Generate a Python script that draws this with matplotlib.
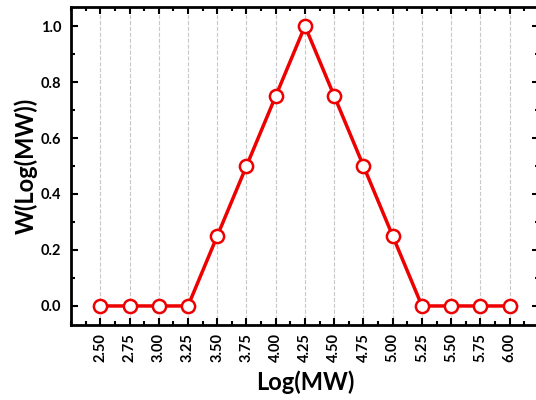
import matplotlib.pyplot as plt
from matplotlib.ticker import MultipleLocator

# molecular weight distribution (triangle)
log_mw = [2.50, 2.75, 3.00, 3.25, 3.50, 3.75, 4.00, 4.25, 4.50, 4.75, 5.00, 5.25, 5.50, 5.75, 6.00]
w_log_mw = [0.0, 0.0, 0.0, 0.0, 0.25, 0.5, 0.75, 1.0, 0.75, 0.5, 0.25, 0.0, 0.0, 0.0, 0.0]
xtick_labels = ['%.2f' % v for v in log_mw]

plt.rcParams['font.family'] = ['Lato', 'DejaVu Sans']

fig = plt.figure(figsize=(5.36, 4.0), dpi=100)
ax = fig.add_axes([0.1325, 0.1875, 0.873, 0.795])

ax.plot(log_mw, w_log_mw, color='#ee0000', lw=2.5, marker='o', ms=9.5,
        mfc='white', mec='#ee0000', mew=1.8, zorder=3)

ax.set_xlim(2.25, 6.25)
ax.set_ylim(-0.068, 1.068)
ax.set_xticks(log_mw)
ax.set_xticklabels(xtick_labels, rotation=90, fontweight='bold', fontsize=10.5)
ax.xaxis.set_minor_locator(MultipleLocator(0.125))
ax.yaxis.set_minor_locator(MultipleLocator(0.1))
ax.set_yticks([0.0, 0.2, 0.4, 0.6, 0.8, 1.0])
ax.set_yticklabels(['0.0', '0.2', '0.4', '0.6', '0.8', '1.0'], fontweight='bold', fontsize=10.5)

ax.tick_params(which='both', direction='in', top=True, right=True, width=1.5)
ax.tick_params(which='major', length=5)
ax.tick_params(which='minor', length=3)
ax.tick_params(axis='x', pad=6)
ax.tick_params(axis='y', pad=7)

for s in ax.spines.values():
    s.set_linewidth(2)

ax.grid(axis='x', which='major', color='#c8c8c8', ls='--', lw=0.8)
ax.set_axisbelow(True)

ax.set_xlabel('Log(MW)', fontsize=17, fontweight='bold', labelpad=6)
ax.set_ylabel('W(Log(MW))', fontsize=17, fontweight='bold', labelpad=2)

fig.savefig('out.png', dpi=100)
